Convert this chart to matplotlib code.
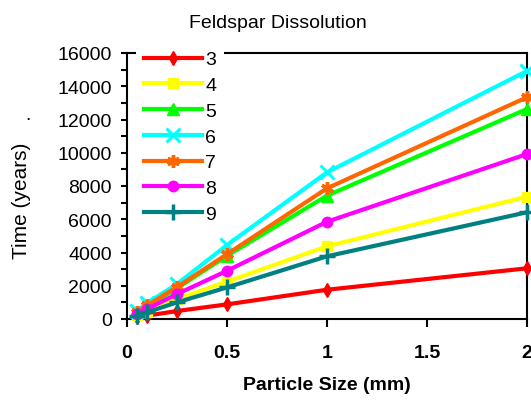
import matplotlib
matplotlib.use("Agg")
import matplotlib.pyplot as plt

plt.rcParams['font.family'] = ['Liberation Sans', 'DejaVu Sans']

particle_size = [0.05, 0.1, 0.25, 0.5, 1, 2]
series_names = ["3", "4", "5", "6", "7", "8", "9"]
t3 = [100, 200, 480, 880, 1760, 3050]
t4 = [220, 450, 1200, 2250, 4370, 7360]
t5 = [400, 750, 1850, 3800, 7420, 12630]
t6 = [500, 960, 2100, 4450, 8820, 14920]
t7 = [450, 820, 1920, 3900, 7860, 13340]
t8 = [300, 600, 1500, 2900, 5850, 9920]
t9 = [200, 400, 1000, 1900, 3770, 6420]
series = [t3, t4, t5, t6, t7, t8, t9]

colors = ["#FF0000", "#FFFF00", "#00FF00", "#00FFFF", "#FF6600", "#FF00FF", "#008080"]
markers = ["d", "s", "^", "x", (6, 2, 0), "o", "+"]
msizes = [7, 7, 8, 10, 9, 7.5, 11]
mews = [1, 1, 1, 2.2, 2.5, 1, 2.5]

W, H = 531, 402
fig = plt.figure(figsize=(W / 100, H / 100), dpi=100)
ax = fig.add_axes([127 / W, 1 - 320 / H, 400 / W, 266 / H])

for name, vals, c, m, ms, mew in zip(series_names, series, colors, markers, msizes, mews):
    ax.plot(particle_size, vals, color=c, lw=3, marker=m, markersize=ms,
            markeredgewidth=mew, markeredgecolor=c, markerfacecolor=c,
            label=name, clip_on=False, zorder=3)

ax.set_xlim(0, 2)
ax.set_ylim(0, 16000)
ax.set_xticks([0, 0.5, 1, 1.5, 2])
ax.set_xticklabels(["0", "0.5", "1", "1.5", "2"], fontweight='bold', fontsize=14)
ax.set_yticks(range(0, 16001, 2000))
ax.set_yticks(range(1000, 16000, 2000), minor=True)
ax.tick_params(axis='y', which='major', direction='out', length=4, width=1.5, pad=7, labelsize=14)
ax.tick_params(axis='y', which='minor', direction='out', length=4, width=1.5)
ax.tick_params(axis='x', which='major', direction='out', length=6, width=1.5, pad=12)
for s in ax.spines.values():
    s.set_linewidth(1.5)

ax.set_xlabel("Particle Size (mm)", fontsize=14, fontweight='bold', labelpad=11)
fig.text(22 / W, 1 - 201 / H, "Time (years)", rotation=90, ha='center', va='center', fontsize=15)
fig.text(28 / W, 1 - 120 / H, ".", ha='center', va='baseline', fontsize=14)
fig.text(278 / W, 1 - 24 / H, "Feldspar Dissolution", ha='center', va='center', fontsize=14)

leg = ax.legend(loc='upper left', bbox_to_anchor=(9 / 400, 1 + 10 / 266), fontsize=14,
                handlelength=3, handletextpad=0.15, labelspacing=0.42, borderpad=0.4,
                borderaxespad=0, frameon=True, fancybox=False, framealpha=1,
                facecolor='white', edgecolor='none')

fig.savefig("out.png", dpi=100)
